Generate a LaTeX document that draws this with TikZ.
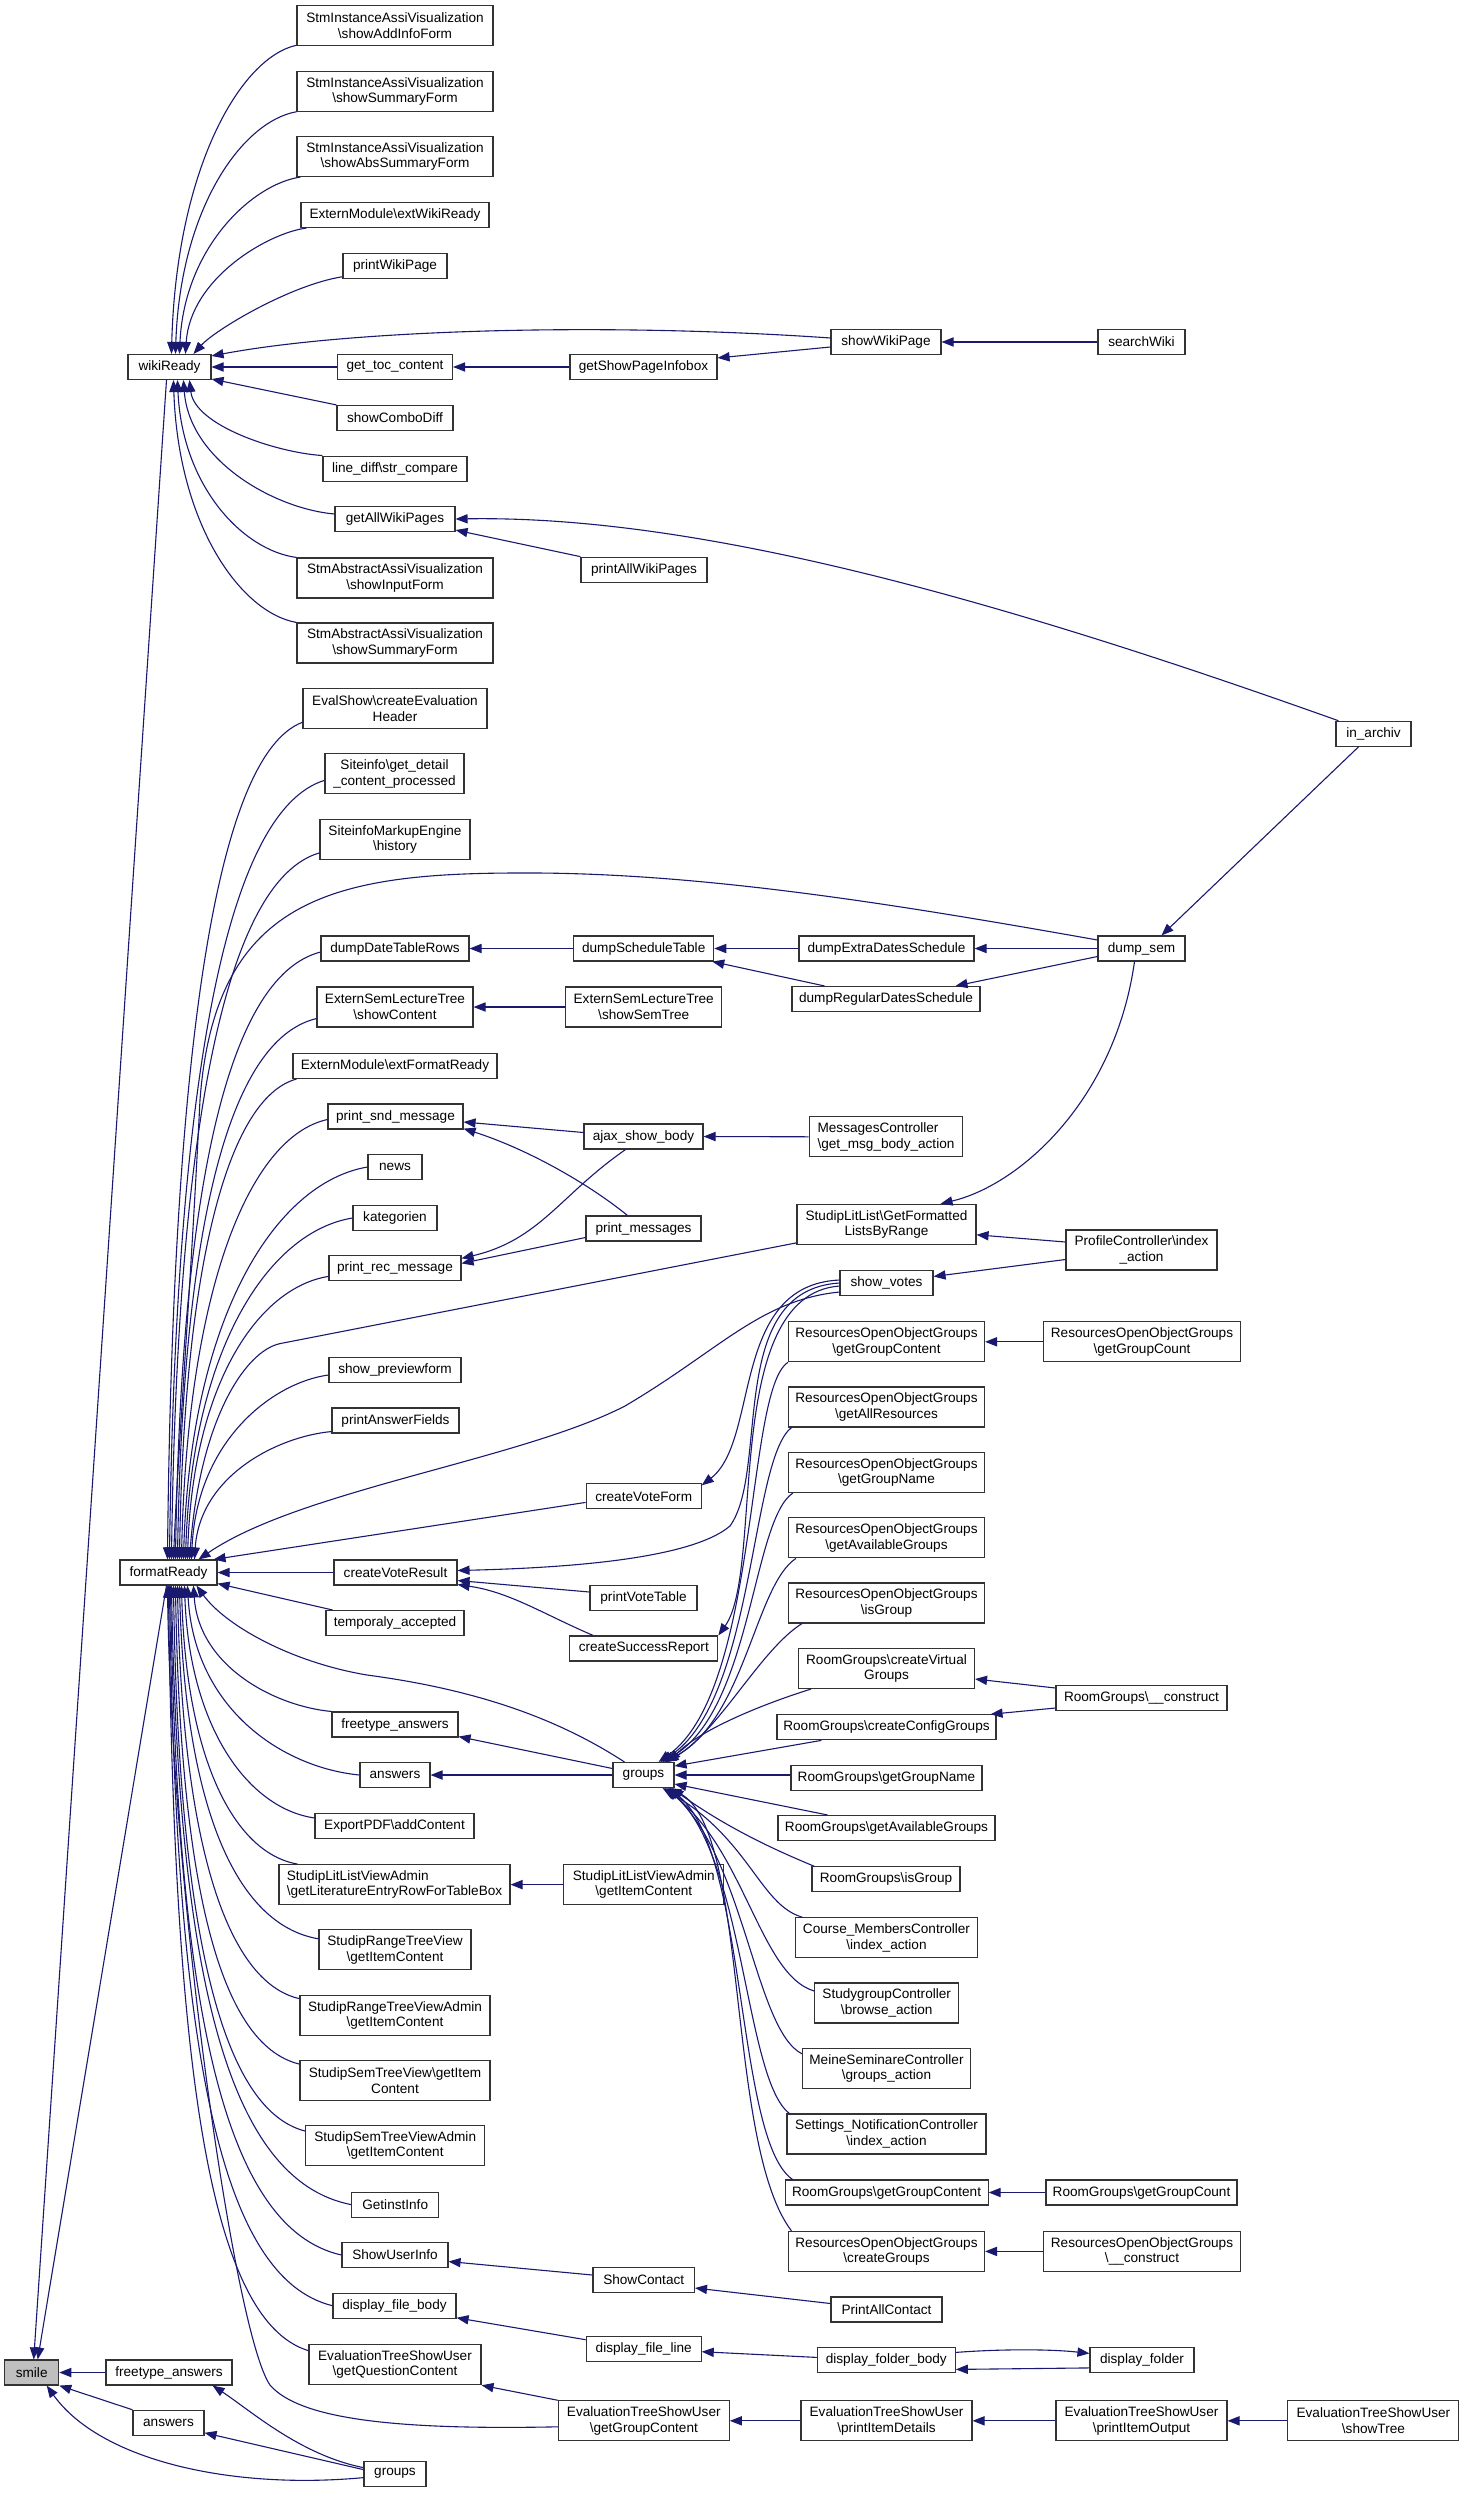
\documentclass[tikz,border=0pt]{standalone}
\usepackage{fontspec}
\setmainfont{Liberation Sans}
\usetikzlibrary{arrows.meta,calc}
\definecolor{edgecol}{HTML}{191970}
\newcommand\BSL{\textbackslash}
\newcommand\fanx[4]{\draw[edge] let \p1=(#3), \p2=(#4) in (\p1) .. controls ({\x1+#1*(\x2-\x1)},{\y1+0.04*(\y2-\y1)}) and ({\x2+0.04*(\x1-\x2)},{\y1+#2*(\y2-\y1)}) .. (\p2);}
\tikzset{
 box/.style={draw=black!80, line width=0.55pt, fill=white, rectangle, inner xsep=1.5pt, inner ysep=0pt, minimum height=12.5pt, font=\fontsize{6.8pt}{7.7pt}\selectfont, align=center},
 box2/.style={box, minimum height=20pt},
 bw/.style={minimum width=#1*0.5pt},
 edge/.style={draw=edgecol, line width=0.55pt, -{Triangle[length=6pt,width=4.6pt]}},
}
\begin{document}
\begin{tikzpicture}[x=0.5pt,y=-0.5pt]
\fill[white] (0,0) rectangle (1464,2493);
\useasboundingbox (0,0) rectangle (1464,2493);
% ---------- nodes: column 1 ----------
\node[box,bw=83] (wr) at (169.5,367) {wikiReady};
\node[box,bw=97] (fr) at (168.5,1572.5) {formatReady};
\node[box,bw=54,fill=black!25] (smile) at (31.7,2372.5) {smile};
\node[box,bw=126] (fa2) at (169,2372.5) {freetype\_answers};
\node[box,bw=71] (ans2) at (168.5,2422.8) {answers};
% ---------- column 2 ----------
\node[box2,bw=196] (n1) at (395,25.7) {StmInstanceAssiVisualization\\\BSL showAddInfoForm};
\node[box2,bw=196] (n2) at (395,91.2) {StmInstanceAssiVisualization\\\BSL showSummaryForm};
\node[box2,bw=196] (n3) at (395,156.5) {StmInstanceAssiVisualization\\\BSL showAbsSummaryForm};
\node[box,bw=188] (n4) at (395,215) {ExternModule\BSL extWikiReady};
\node[box,bw=104] (n5) at (395,265.7) {printWikiPage};
\node[box,bw=115] (gtc) at (395,367) {get\_toc\_content};
\node[box,bw=116] (scd) at (395,418) {showComboDiff};
\node[box,bw=144] (ldsc) at (395,468.6) {line\_diff\BSL str\_compare};
\node[box,bw=120] (gawp) at (395,519) {getAllWikiPages};
\node[box2,bw=196] (sif) at (395,578) {StmAbstractAssiVisualization\\\BSL showInputForm};
\node[box2,bw=196] (ssf) at (395,643) {StmAbstractAssiVisualization\\\BSL showSummaryForm};
\node[box2,bw=184] (ecs) at (395,708.7) {EvalShow\BSL createEvaluation\\Header};
\node[box2,bw=139] (sgd) at (394.5,773.8) {Siteinfo\BSL get\_detail\\\_content\_processed};
\node[box2,bw=150] (sme) at (395,839.3) {SiteinfoMarkupEngine\\\BSL history};
\node[box,bw=148] (ddtr) at (395,948.5) {dumpDateTableRows};
\node[box2,bw=156] (estc) at (395,1007) {ExternSemLectureTree\\\BSL showContent};
\node[box,bw=204] (efr) at (395,1066) {ExternModule\BSL extFormatReady};
\node[box,bw=135] (psm) at (395.5,1116.5) {print\_snd\_message};
\node[box,bw=54] (news) at (395,1167) {news};
\node[box,bw=84] (kat) at (395,1218) {kategorien};
\node[box,bw=132] (prm) at (395,1268.4) {print\_rec\_message};
\node[box,bw=132] (spf) at (395,1370) {show\_previewform};
\node[box,bw=127] (paf) at (395.5,1420.5) {printAnswerFields};
\node[box,bw=123] (cvr) at (395.5,1572.5) {createVoteResult};
\node[box,bw=138] (ta) at (395,1623) {temporaly\_accepted};
\node[box,bw=126] (fa) at (395,1724.5) {freetype\_answers};
\node[box,bw=70] (ans) at (395,1775) {answers};
\node[box,bw=159] (epdf) at (394.5,1826) {ExportPDF\BSL addContent};
\node[box2,bw=231,align=left] (sllva) at (394.5,1884.6) {StudipLitListViewAdmin\\\BSL getLiteratureEntryRowForTableBox};
\node[box2,bw=152] (srtv) at (395,1949.8) {StudipRangeTreeView\\\BSL getItemContent};
\node[box2,bw=190] (srtva) at (395,2015.2) {StudipRangeTreeViewAdmin\\\BSL getItemContent};
\node[box2,bw=190] (sstv) at (395,2080.6) {StudipSemTreeView\BSL getItem\\Content};
\node[box2,bw=179] (sstva) at (395.2,2145.6) {StudipSemTreeViewAdmin\\\BSL getItemContent};
\node[box,bw=87] (gii) at (395.2,2204.6) {GetinstInfo};
\node[box,bw=106] (sui) at (395,2255) {ShowUserInfo};
\node[box,bw=123] (dfb) at (394.5,2305.7) {display\_file\_body};
\node[box2,bw=172] (etqc) at (395,2364.7) {EvaluationTreeShowUser\\\BSL getQuestionContent};
\node[box,bw=62] (grp2) at (395,2473.6) {groups};
% ---------- column 3 ----------
\node[box,bw=147] (gspi) at (643.5,367) {getShowPageInfobox};
\node[box,bw=126] (pawp) at (644,569.7) {printAllWikiPages};
\node[box,bw=140] (dst) at (643.7,948.5) {dumpScheduleTable};
\node[box2,bw=156] (estt) at (643.7,1007) {ExternSemLectureTree\\\BSL showSemTree};
\node[box,bw=119] (asb) at (643.5,1136.5) {ajax\_show\_body};
\node[box,bw=115] (pmsg) at (643.5,1228.5) {print\_messages};
\node[box,bw=115] (cvf) at (643.7,1496.4) {createVoteForm};
\node[box,bw=107] (pvt) at (643.5,1598) {printVoteTable};
\node[box,bw=148] (csr) at (643.8,1648.5) {createSuccessReport};
\node[box,bw=61] (grp) at (643.5,1775) {groups};
\node[box2,bw=160] (sllvic) at (643.8,1884.6) {StudipLitListViewAdmin\\\BSL getItemContent};
\node[box,bw=101.5] (sc) at (643.7,2280) {ShowContact};
\node[box,bw=115] (dfl) at (643.7,2348.7) {display\_file\_line};
\node[box2,bw=171] (etgc) at (643.8,2420.8) {EvaluationTreeShowUser\\\BSL getGroupContent};
% ---------- column 4 ----------
\node[box,bw=110] (swp) at (886,342) {showWikiPage};
\node[box,bw=175] (dxds) at (886.5,948.5) {dumpExtraDatesSchedule};
\node[box,bw=188] (drds) at (886,999) {dumpRegularDatesSchedule};
\node[box2,bw=153.5,align=left] (mc) at (886,1136.8) {MessagesController\\\BSL get\_msg\_body\_action};
\node[box2,bw=179] (sll) at (886.5,1224.3) {StudipLitList\BSL GetFormatted\\ListsByRange};
\node[box,bw=93] (sv) at (886.5,1283) {show\_votes};
\node[box2,bw=196] (roogc) at (886.5,1341.8) {ResourcesOpenObjectGroups\\\BSL getGroupContent};
\node[box2,bw=196] (rooar) at (886.5,1407) {ResourcesOpenObjectGroups\\\BSL getAllResources};
\node[box2,bw=196] (roogn) at (886.5,1472.4) {ResourcesOpenObjectGroups\\\BSL getGroupName};
\node[box2,bw=196] (rooag) at (886.5,1537.9) {ResourcesOpenObjectGroups\\\BSL getAvailableGroups};
\node[box2,bw=196] (rooig) at (886.5,1603) {ResourcesOpenObjectGroups\\\BSL isGroup};
\node[box2,bw=176] (rgcv) at (886.5,1668.5) {RoomGroups\BSL createVirtual\\Groups};
\node[box,bw=219] (rgcc) at (886.5,1727.3) {RoomGroups\BSL createConfigGroups};
\node[box,bw=191] (rggn) at (886.5,1777.7) {RoomGroups\BSL getGroupName};
\node[box,bw=217] (rgag) at (886.5,1828) {RoomGroups\BSL getAvailableGroups};
\node[box,bw=148] (rgig) at (886,1879.4) {RoomGroups\BSL isGroup};
\node[box2,bw=181.4] (cmc) at (886.5,1937.7) {Course\_MembersController\\\BSL index\_action};
\node[box2,bw=144] (sgc) at (886.7,2003) {StudygroupController\\\BSL browse\_action};
\node[box2,bw=168] (msc) at (886.5,2068.5) {MeineSeminareController\\\BSL groups\_action};
\node[box2,bw=199] (snc) at (886.5,2134) {Settings\_NotificationController\\\BSL index\_action};
\node[box,bw=203] (rggc) at (886.6,2192.5) {RoomGroups\BSL getGroupContent};
\node[box2,bw=196] (roocg) at (886.5,2251.4) {ResourcesOpenObjectGroups\\\BSL createGroups};
\node[box,bw=111] (pac) at (886.5,2309.5) {PrintAllContact};
\node[box,bw=138] (dfob) at (886.3,2360.4) {display\_folder\_body};
\node[box2,bw=171] (etpid) at (886.5,2420.8) {EvaluationTreeShowUser\\\BSL printItemDetails};
% ---------- column 5 ----------
\node[box,bw=87] (sw) at (1141.5,342) {searchWiki};
\node[box,bw=87] (ds) at (1141.5,948.5) {dump\_sem};
\node[box2,bw=151] (pc) at (1141.5,1250) {ProfileController\BSL index\\\_action};
\node[box2,bw=196.6] (roogcnt) at (1142,1341.8) {ResourcesOpenObjectGroups\\\BSL getGroupCount};
\node[box,bw=171] (rgcon) at (1141.5,1698) {RoomGroups\BSL \_\_construct};
\node[box,bw=191] (rggcnt) at (1141.5,2192.5) {RoomGroups\BSL getGroupCount};
\node[box2,bw=196.6] (roocon) at (1142,2251.4) {ResourcesOpenObjectGroups\\\BSL \_\_construct};
\node[box,bw=104] (df) at (1142,2360.4) {display\_folder};
\node[box2,bw=171] (etpio) at (1141.5,2420.8) {EvaluationTreeShowUser\\\BSL printItemOutput};
% ---------- column 6 ----------
\node[box,bw=75] (ia) at (1373.5,733.8) {in\_archiv};
\node[box2,bw=171] (etst) at (1373.4,2420.8) {EvaluationTreeShowUser\\\BSL showTree};

% ================= edges =================
% wikiReady fan
\fanx{0.45}{0.4}{$(n1.south west)+(0,-1)$}{$(wr.north west)+(44,0)$}
\fanx{0.45}{0.4}{n2.south west}{$(wr.north west)+(48,0)$}
\fanx{0.4}{0.4}{$(n3.south west)+(4,0)$}{$(wr.north west)+(52,0)$}
\fanx{0.32}{0.4}{$(n4.south west)+(6,0)$}{$(wr.north west)+(58,0)$}
\draw[edge] ($(n5.south west)+(0,-2)$) .. controls (290,285) and (215,330) .. ($(wr.north west)+(66,0)$);
\draw[edge] ($(swp.west)+(0,-4)$) .. controls (600,322) and (350,330) .. ($(wr.north east)+(0,2)$);
\draw[edge] (gtc.west) -- (wr.east);
\draw[edge] (scd.north west) -- ($(wr.south east)+(0,-1)$);
\fanx{0.35}{0.4}{ldsc.north west}{$(wr.south west)+(62,0)$}
\fanx{0.4}{0.4}{$(gawp.west)+(0,-5)$}{$(wr.south west)+(56,0)$}
\fanx{0.45}{0.4}{sif.north west}{$(wr.south west)+(50,0)$}
\fanx{0.45}{0.4}{ssf.north west}{$(wr.south west)+(46,0)$}
\draw[edge] (gspi.west) -- (gtc.east);
\draw[edge] ($(swp.west)+(0,5)$) -- ($(gspi.north east)+(0,4)$);
\draw[edge] (sw.west) -- (swp.east);
\draw[edge] ($(ia.north west)+(3,0)$) .. controls (1000,600) and (700,515) .. (gawp.east);
\draw[edge] (pawp.north west) -- ($(gawp.south east)+(0,-2)$);
% formatReady fan (top)
\fanx{0.65}{0.4}{$(ecs.south west)+(0,-7)$}{$(fr.north west)+(48,0)$}
\fanx{0.65}{0.4}{$(sgd.south west)+(0,-14)$}{$(fr.north west)+(50,0)$}
\fanx{0.65}{0.4}{$(sme.south west)+(0,-7)$}{$(fr.north west)+(52,0)$}
\draw[edge] ($(ds.west)+(0,-8.5)$) .. controls (900,905) and (700,872) .. (520,873) .. controls (330,873) and (215,900) .. (200,1100) .. controls (190,1300) and (178,1450) .. ($(fr.north west)+(54,0)$);
\fanx{0.65}{0.4}{$(ddtr.south west)+(0,-9.5)$}{$(fr.north west)+(56,0)$}
\fanx{0.65}{0.4}{$(estc.south west)+(0,-9)$}{$(fr.north west)+(58,0)$}
\fanx{0.6}{0.4}{$(efr.south west)+(4,0)$}{$(fr.north west)+(60,0)$}
\fanx{0.55}{0.4}{$(psm.west)+(0,3)$}{$(fr.north west)+(62,0)$}
\fanx{0.5}{0.38}{news.west}{$(fr.north west)+(64,0)$}
\fanx{0.5}{0.38}{kat.west}{$(fr.north west)+(66,0)$}
\fanx{0.5}{0.38}{$(prm.west)+(0,8)$}{$(fr.north west)+(68,0)$}
\draw[edge] ($(sll.south west)+(0,-2)$) -- (280,1343.6) .. controls (245,1351) and (200,1420) .. ($(fr.north west)+(70,0)$);
\fanx{0.4}{0.35}{$(spf.west)+(0,5)$}{$(fr.north west)+(72,0)$}
\fanx{0.4}{0.35}{$(paf.south west)+(0,-2)$}{$(fr.north west)+(75,0)$}
\draw[edge] ($(sv.west)+(0,9)$) .. controls (760,1300) and (720,1350) .. (625,1406) .. controls (520,1460) and (300,1490) .. ($(fr.north west)+(79,0)$);
\draw[edge] ($(cvf.west)+(0,6)$) -- ($(fr.north east)+(-4,0)$);
\draw[edge] (cvr.west) -- (fr.east);
\draw[edge] ($(ta.north west)+(7,0)$) -- ($(fr.south east)+(0,-2)$);
\draw[edge] ($(grp.north west)+(12,0)$) .. controls (560,1720) and (480,1690) .. (367,1675) .. controls (290,1662) and (225,1625) .. ($(fr.south west)+(77,0)$);
% formatReady fan (bottom)
\fanx{0.4}{0.35}{fa.north west}{$(fr.south west)+(74,0)$}
\fanx{0.45}{0.35}{ans.west}{$(fr.south west)+(68,0)$}
\fanx{0.5}{0.38}{$(epdf.north west)+(0,5)$}{$(fr.south west)+(65,0)$}
\fanx{0.55}{0.38}{$(sllva.north west)+(19,0)$}{$(fr.south west)+(62,0)$}
\fanx{0.6}{0.38}{$(srtv.west)+(0,-11)$}{$(fr.south west)+(60,0)$}
\fanx{0.6}{0.38}{$(srtva.north west)+(0,4)$}{$(fr.south west)+(58,0)$}
\fanx{0.65}{0.38}{$(sstv.north west)+(0,4)$}{$(fr.south west)+(56,0)$}
\fanx{0.65}{0.38}{$(sstva.north west)+(0,6)$}{$(fr.south west)+(54,0)$}
\fanx{0.7}{0.38}{gii.west}{$(fr.south west)+(52,0)$}
\fanx{0.7}{0.38}{sui.west}{$(fr.south west)+(51,0)$}
\fanx{0.72}{0.38}{dfb.west}{$(fr.south west)+(50,0)$}
\fanx{0.72}{0.38}{$(etqc.north west)+(0,6.5)$}{$(fr.south west)+(49,0)$}
\draw[edge] ($(etgc.west)+(0,6)$) .. controls (400,2430) and (300,2420) .. (270,2385) .. controls (235,2335) and (172,1900) .. ($(fr.south west)+(48,0)$);
% smile
\draw[edge] ($(wr.south)+(-3,0)$) -- ($(smile.north)+(2,0)$);
\draw[edge] ($(fr.south)+(-2,0)$) -- ($(smile.north)+(6,0)$);
\draw[edge] (fa2.west) -- (smile.east);
\draw[edge] (ans2.north west) -- (smile.south east);
\draw[edge] ($(grp2.west)+(0,4)$) .. controls (230,2490) and (100,2460) .. ($(smile.south)+(15,0)$);
\draw[edge] ($(grp2.west)+(0,-6)$) .. controls (300,2455) and (250,2410) .. ($(fa2.south east)+(-20,0)$);
\draw[edge] ($(grp2.west)+(0,-4)$) -- ($(ans2.east)+(0,10)$);
% dump chain
\draw[edge] (dst.west) -- (ddtr.east);
\draw[edge] (dxds.west) -- (dst.east);
\draw[edge] ($(drds.north west)+(33,0)$) -- ($(dst.south east)+(-2,0)$);
\draw[edge] (ds.west) -- (dxds.east);
\draw[edge] ($(ds.west)+(0,8)$) -- ($(drds.north east)+(-25,0)$);
\draw[edge] ($(ia.south)+(-15,0)$) -- ($(ds.north)+(20,0)$);
\draw[edge] ($(ds.south)+(-7,0)$) .. controls (1115,1100) and (1020,1185) .. ($(sll.north east)+(-36,0)$);
\draw[edge] ($(pc.west)+(0,-8)$) -- ($(sll.east)+(0,10.5)$);
\draw[edge] ($(pc.west)+(0,9.5)$) -- ($(sv.east)+(0,-6.5)$);
\draw[edge] (estt.west) -- (estc.east);
% messages
\draw[edge] ($(asb.west)+(0,-4)$) -- ($(psm.east)+(0,5.5)$);
\draw[edge] ($(pmsg.north)+(-16,0)$) .. controls (590,1185) and (530,1150) .. ($(psm.south east)+(0,-1)$);
\draw[edge] ($(asb.south)+(-18,0)$) .. controls (560,1195) and (540,1240) .. ($(prm.north east)+(0,3)$);
\draw[edge] ($(pmsg.west)+(0,9)$) -- ($(prm.east)+(0,-5)$);
\draw[edge] (mc.west) -- (asb.east);
% votes
\draw[edge] ($(sv.west)+(0,-3)$) .. controls (730,1285) and (760,1440) .. ($(cvf.north east)+(0,2)$);
\draw[edge] ($(sv.west)+(0,0)$) .. controls (725,1290) and (770,1470) .. (730,1526) .. controls (690,1560) and (560,1568) .. ($(cvr.east)+(0,-2)$);
\draw[edge] ($(sv.west)+(0,3)$) .. controls (720,1295) and (765,1570) .. (csr.north east);
\draw[edge] ($(pvt.west)+(0,-6)$) -- ($(cvr.east)+(0,8)$);
\draw[edge] ($(csr.north west)+(24,0)$) .. controls (545,1615) and (510,1592) .. ($(cvr.south east)+(0,-1)$);
% groups (first)
\draw[edge] ($(grp.west)+(0,-6.5)$) -- ($(fa.south east)+(0,-1)$);
\draw[edge] (grp.west) -- (ans.east);
\draw[edge] ($(roogc.south west)+(0,0)$) .. controls (745,1390) and (760,1690) .. ($(grp.north east)+(-16,0)$);
\draw[edge] ($(rooar.south west)+(3.5,0)$) .. controls (750,1460) and (755,1700) .. ($(grp.north east)+(-14,0)$);
\draw[edge] ($(roogn.south west)+(5,0)$) .. controls (752,1520) and (752,1710) .. ($(grp.north east)+(-12,0)$);
\draw[edge] ($(rooag.south west)+(8,0)$) .. controls (755,1585) and (745,1720) .. ($(grp.north east)+(-10,0)$);
\draw[edge] ($(rooig.south west)+(14,0)$) .. controls (760,1650) and (720,1730) .. ($(grp.north east)+(-8,0)$);
\draw[edge] ($(rgcv.south west)+(13,0)$) .. controls (760,1705) and (700,1730) .. ($(grp.north east)+(-6,0)$);
\draw[edge] ($(rgcc.south west)+(45,0)$) -- ($(grp.east)+(0,-9)$);
\draw[edge] ($(rggn.west)+(0,-2.7)$) -- (grp.east);
\draw[edge] ($(rgag.north west)+(50,0)$) -- ($(grp.east)+(0,9)$);
\draw[edge] ($(rgig.north west)+(3,0)$) .. controls (780,1852) and (730,1830) .. ($(grp.south east)+(-3,0)$);
\draw[edge] ($(cmc.north west)+(7,0)$) .. controls (760,1905) and (750,1840) .. ($(grp.south east)+(-12,0)$);
\draw[edge] ($(sgc.west)+(0,-12)$) .. controls (760,1975) and (745,1850) .. ($(grp.south east)+(-10,0)$);
\draw[edge] ($(msc.west)+(0,-14.7)$) .. controls (755,2030) and (745,1860) .. ($(grp.south east)+(-8,0)$);
\draw[edge] ($(snc.north west)+(3,0)$) .. controls (745,2080) and (745,1860) .. ($(grp.south east)+(-7,0)$);
\draw[edge] ($(rggc.north west)+(8,0)$) .. controls (735,2140) and (748,1850) .. ($(grp.south east)+(-6,0)$);
\draw[edge] ($(roocg.north west)+(3.5,0)$) .. controls (725,2143) and (750,1830) .. ($(grp.south east)+(-5,0)$);
% right-side small chains
\draw[edge] (roogcnt.west) -- (roogc.east);
\draw[edge] ($(rgcon.west)+(0,-10)$) -- ($(rgcv.east)+(0,10.5)$);
\draw[edge] ($(rgcon.west)+(0,10)$) -- ($(rgcc.north east)+(-6,0)$);
\draw[edge] (rggcnt.west) -- (rggc.east);
\draw[edge] (roocon.west) -- (roocg.east);
\draw[edge] (sllvic.west) -- (sllva.east);
\draw[edge] ($(sc.west)+(0,-5)$) -- ($(sui.east)+(0,6.5)$);
\draw[edge] ($(pac.west)+(0,-6)$) -- ($(sc.east)+(0,8)$);
\draw[edge] ($(dfl.west)+(0,-9)$) -- ($(dfb.south east)+(0,-1)$);
\draw[edge] ($(dfob.west)+(0,-3)$) -- ($(dfl.east)+(0,3)$);
\draw[edge] ($(dfob.east)+(0,-8)$) .. controls (1000,2349) and (1050,2349) .. ($(df.west)+(0,-7)$);
\draw[edge] ($(df.west)+(0,7.5)$) -- ($(dfob.east)+(0,9)$);
\draw[edge] (etgc.north west) -- (etqc.south east);
\draw[edge] (etpid.west) -- (etgc.east);
\draw[edge] (etpio.west) -- (etpid.east);
\draw[edge] (etst.west) -- (etpio.east);
\end{tikzpicture}
\end{document}
